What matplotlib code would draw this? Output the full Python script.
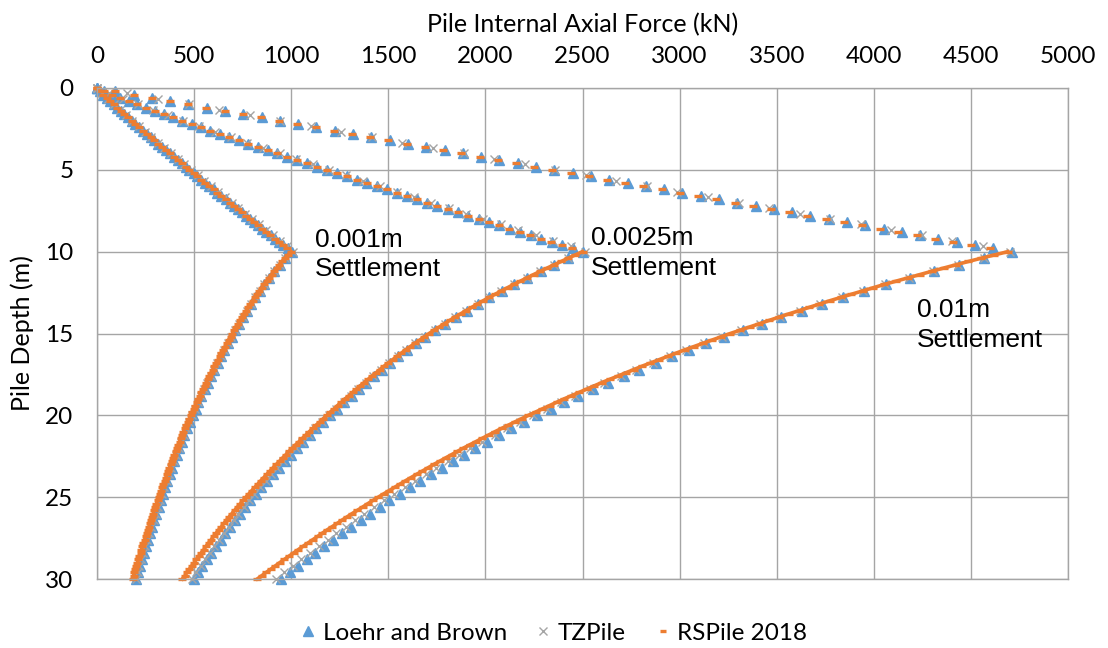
import matplotlib
matplotlib.use("Agg")
import matplotlib.pyplot as plt
from matplotlib.lines import Line2D

plt.rcParams["font.family"] = ["Lato", "DejaVu Sans"]

# depth of the output nodes (m)
depth_rs = [0, 0.2, 0.4, 0.6, 0.8, 1, 1.2, 1.4, 1.6, 1.8, 2, 2.2, 2.4, 2.6, 2.8, 3, 3.2, 3.4, 3.6, 3.8,
            4, 4.2, 4.4, 4.6, 4.8, 5, 5.2, 5.4, 5.6, 5.8, 6, 6.2, 6.4, 6.6, 6.8, 7, 7.2, 7.4, 7.6, 7.8,
            8, 8.2, 8.4, 8.6, 8.8, 9, 9.2, 9.4, 9.6, 9.8, 10, 10.2, 10.4, 10.6, 10.8, 11, 11.2, 11.4, 11.6, 11.8,
            12, 12.2, 12.4, 12.6, 12.8, 13, 13.2, 13.4, 13.6, 13.8, 14, 14.2, 14.4, 14.6, 14.8, 15, 15.2, 15.4, 15.6, 15.8,
            16, 16.2, 16.4, 16.6, 16.8, 17, 17.2, 17.4, 17.6, 17.8, 18, 18.2, 18.4, 18.6, 18.8, 19, 19.2, 19.4, 19.6, 19.8,
            20, 20.2, 20.4, 20.6, 20.8, 21, 21.2, 21.4, 21.6, 21.8, 22, 22.2, 22.4, 22.6, 22.8, 23, 23.2, 23.4, 23.6, 23.8,
            24, 24.2, 24.4, 24.6, 24.8, 25, 25.2, 25.4, 25.6, 25.8, 26, 26.2, 26.4, 26.6, 26.8, 27, 27.2, 27.4, 27.6, 27.8,
            28, 28.2, 28.4, 28.6, 28.8, 29, 29.2, 29.4, 29.6, 29.8, 30]
depth_lb = depth_rs[:51] + depth_rs[52::2]
depth_tz = [0, 0.33, 0.67, 1, 1.33, 1.67, 2, 2.33, 2.67, 3, 3.33, 3.67, 4, 4.33, 4.67, 5,
            5.33, 5.67, 6, 6.33, 6.67, 7, 7.33, 7.67, 8, 8.33, 8.67, 9, 9.33, 9.67, 10] + depth_rs[52::2]

# RSPile 2018 (kN)
rs_1mm = [0, 15, 32, 49, 67, 85, 103, 122, 141, 160, 179, 198, 217, 237, 256, 276, 295, 315, 335, 355,
          375, 395, 415, 436, 456, 476, 497, 517, 538, 558, 579, 600, 620, 641, 662, 683, 704, 725, 746, 767,
          788, 809, 830, 851, 872, 893, 915, 936, 957, 979, 1000,
          984, 968, 953, 939, 926, 912, 899, 886, 873, 860, 848, 836, 824, 813, 801, 790, 779, 769, 758, 747,
          737, 727, 717, 707, 697, 688, 678, 669, 659, 650, 641, 632, 623, 614, 605, 596, 588, 579, 571, 562,
          554, 546, 537, 529, 521, 513, 505, 498, 490, 482, 475, 467, 460, 452, 445, 438, 431, 425, 418, 411,
          405, 398, 392, 385, 379, 373, 367, 360, 354, 348, 342, 336, 330, 324, 318, 312, 306, 301, 295, 289,
          283, 278, 272, 267, 261, 256, 250, 245, 239, 234, 229, 224, 218, 213, 208, 203, 198, 193, 188, 183]
rs_25mm = [0, 37, 77, 120, 163, 208, 253, 299, 345, 392, 440, 487, 535, 584, 632, 681, 730, 780, 829, 879,
           929, 980, 1030, 1081, 1132, 1183, 1234, 1285, 1337, 1388, 1440, 1492, 1544, 1596, 1648, 1701, 1753, 1806, 1859, 1912,
           1965, 2018, 2071, 2124, 2178, 2231, 2285, 2338, 2392, 2446, 2500,
           2463, 2426, 2390, 2354, 2318, 2283, 2248, 2214, 2180, 2146, 2114, 2082, 2050, 2019, 1988, 1959, 1930, 1901, 1872, 1843,
           1816, 1789, 1763, 1736, 1710, 1686, 1662, 1637, 1613, 1589, 1567, 1545, 1522, 1500, 1478, 1457, 1437, 1416, 1396, 1375,
           1355, 1336, 1316, 1297, 1277, 1258, 1239, 1221, 1202, 1183, 1165, 1147, 1129, 1111, 1093, 1076, 1058, 1041, 1023, 1006,
           989, 973, 956, 940, 923, 907, 891, 875, 859, 843, 828, 813, 797, 782, 767, 753, 738, 724, 709, 695,
           681, 668, 654, 641, 627, 614, 601, 588, 575, 562, 550, 537, 525, 512, 500, 488, 476, 464, 452, 440]
rs_10mm = [0, 94, 188, 281, 375, 469, 563, 657, 750, 844, 938, 1032, 1126, 1219, 1313, 1407, 1501, 1595, 1688, 1782,
           1876, 1970, 2064, 2157, 2251, 2345, 2439, 2533, 2626, 2720, 2814, 2908, 3002, 3095, 3189, 3283, 3377, 3471, 3564, 3658,
           3752, 3846, 3940, 4033, 4127, 4221, 4315, 4409, 4502, 4596, 4690,
           4621, 4553, 4487, 4423, 4360, 4298, 4237, 4176, 4115, 4055, 3998, 3942, 3885, 3829, 3773, 3720, 3668, 3616, 3563, 3511,
           3461, 3411, 3361, 3311, 3261, 3214, 3167, 3120, 3073, 3026, 2982, 2938, 2894, 2850, 2806, 2765, 2723, 2682, 2640, 2599,
           2560, 2521, 2482, 2443, 2404, 2367, 2331, 2294, 2258, 2221, 2187, 2152, 2118, 2083, 2049, 2017, 1984, 1952, 1919, 1887,
           1856, 1826, 1795, 1765, 1734, 1705, 1676, 1646, 1617, 1588, 1560, 1532, 1504, 1476, 1448, 1421, 1394, 1368, 1341, 1314,
           1288, 1262, 1237, 1211, 1185, 1160, 1136, 1111, 1086, 1061, 1037, 1013, 989, 965, 941, 918, 895, 871, 848, 825]

# Loehr and Brown (kN)
lb_1mm = [0, 15, 32, 49, 67, 85, 103, 122, 141, 160, 179, 198, 217, 237, 256, 276, 295, 315, 335, 355,
          375, 395, 415, 436, 456, 476, 497, 517, 538, 558, 579, 600, 620, 641, 662, 683, 704, 725, 746, 767,
          788, 809, 830, 851, 872, 894, 916, 937, 959, 981, 1005,
          968, 940, 913, 888, 862, 838, 816, 793, 773, 751, 731, 712, 693, 675, 656, 638, 621, 603, 587, 570,
          554, 538, 522, 508, 492, 477, 463, 449, 437, 423, 410, 398, 386, 374, 362, 350, 339, 327, 317, 305,
          294, 284, 273, 263, 252, 242, 232, 222, 213, 203]
lb_25mm = [0, 37, 77, 120, 163, 208, 253, 299, 345, 392, 440, 487, 535, 584, 632, 681, 730, 780, 829, 879,
           929, 980, 1030, 1081, 1132, 1183, 1234, 1285, 1337, 1388, 1440, 1492, 1544, 1596, 1648, 1701, 1753, 1806, 1859, 1912,
           1965, 2018, 2071, 2125, 2179, 2233, 2287, 2341, 2395, 2450, 2504,
           2426, 2355, 2284, 2215, 2147, 2083, 2021, 1962, 1904, 1847, 1793, 1741, 1691, 1643, 1596, 1552, 1509, 1467, 1427, 1387,
           1349, 1311, 1274, 1237, 1200, 1165, 1130, 1096, 1062, 1029, 997, 966, 935, 904, 874, 845, 817, 789, 762, 735,
           710, 686, 661, 637, 613, 589, 566, 543, 520, 497]
lb_10mm = [0, 94, 188, 283, 377, 471, 565, 659, 754, 848, 942, 1036, 1130, 1225, 1319, 1413, 1507, 1601, 1696, 1790,
           1884, 1978, 2072, 2167, 2261, 2355, 2449, 2543, 2638, 2732, 2826, 2920, 3014, 3109, 3203, 3297, 3391, 3485, 3580, 3674,
           3768, 3862, 3956, 4051, 4145, 4239, 4333, 4427, 4522, 4616, 4711,
           4568, 4437, 4310, 4187, 4065, 3950, 3840, 3732, 3628, 3524, 3425, 3326, 3230, 3137, 3046, 2960, 2876, 2793, 2712, 2630,
           2554, 2479, 2406, 2336, 2266, 2200, 2134, 2071, 2009, 1947, 1889, 1831, 1774, 1719, 1665, 1612, 1559, 1506, 1456, 1406,
           1358, 1310, 1262, 1216, 1171, 1125, 1080, 1036, 992, 950]

# TZPile (kN)
tz_1mm = [0, 27, 56, 86, 118, 149, 181, 214, 247, 280, 313, 347, 381, 415, 449, 483, 518, 553, 588, 623,
          658, 693, 728, 764, 799, 835, 871, 907, 943, 979, 1010,
          968, 940, 913, 887, 861, 837, 815, 792, 772, 750, 730, 711, 692, 673, 654, 636, 619, 601, 585, 568,
          552, 536, 520, 505, 489, 474, 460, 446, 434, 420, 407, 395, 383, 371, 359, 347, 336, 324, 314, 302,
          291, 280, 269, 259, 248, 238, 228, 218, 209, 199]
tz_25mm = [0, 64, 136, 210, 287, 365, 445, 525, 607, 689, 772, 856, 940, 1025, 1111, 1197, 1283, 1370, 1457, 1545,
           1633, 1721, 1810, 1899, 1988, 2078, 2168, 2258, 2348, 2439, 2515,
           2426, 2354, 2283, 2214, 2146, 2082, 2020, 1960, 1902, 1845, 1791, 1739, 1689, 1640, 1593, 1549, 1506, 1464, 1423, 1383,
           1345, 1307, 1270, 1232, 1195, 1160, 1125, 1091, 1057, 1023, 991, 960, 929, 898, 868, 839, 811, 783, 755, 728,
           703, 678, 653, 629, 605, 581, 558, 535, 512, 488]
tz_10mm = [0, 157, 315, 472, 629, 787, 944, 1101, 1259, 1416, 1573, 1731, 1888, 2045, 2203, 2360, 2517, 2675, 2832, 2989,
           3147, 3304, 3461, 3619, 3776, 3933, 4091, 4248, 4405, 4563, 4700,
           4566, 4434, 4306, 4183, 4060, 3946, 3834, 3725, 3620, 3515, 3416, 3316, 3219, 3125, 3034, 2948, 2862, 2778, 2696, 2613,
           2537, 2461, 2387, 2316, 2245, 2178, 2112, 2048, 1985, 1923, 1864, 1805, 1748, 1692, 1637, 1584, 1531, 1478, 1427, 1377,
           1329, 1281, 1233, 1187, 1142, 1096, 1051, 1007, 964, 922]

labels = ["0.001m\nSettlement", "0.0025m\nSettlement", "0.01m\nSettlement"]
label_x = [1122, 2542, 4222]
label_y = [8.54, 8.46, 12.84]

blue = "#5B9BD5"
grey = "#A5A5A5"
orange = "#ED7D31"

fig = plt.figure(figsize=(11.08, 6.48), dpi=100)
ax = fig.add_axes([97 / 1108, 1 - 579 / 648, 971 / 1108, 491 / 648])

for lb in [lb_1mm, lb_25mm, lb_10mm]:
    ax.plot(lb, depth_lb, ls="none", marker="^", ms=7, color=blue, mec=blue, clip_on=False)
for tz in [tz_1mm, tz_25mm, tz_10mm]:
    ax.plot(tz, depth_tz, ls="none", marker="x", ms=6, mew=1.0, color=grey, clip_on=False)
for rs in [rs_1mm, rs_25mm, rs_10mm]:
    # below the peak the dash markers merge into a thick line
    ax.plot(rs[50:], depth_rs[50:], ls="-", lw=2.6, color=orange, clip_on=False)
    ax.plot(rs, depth_rs, ls="none", marker="_", ms=5.5, mew=2.4, color=orange, clip_on=False)

for txt, x, y in zip(labels, label_x, label_y):
    ax.text(x, y, txt, family="Liberation Sans", fontsize=19, va="top", ha="left", linespacing=1.3)

ax.set_xlim(0, 5000)
ax.set_ylim(30, 0)
ax.set_xticks(range(0, 5001, 500))
ax.set_yticks(range(0, 31, 5))
ax.xaxis.tick_top()
ax.xaxis.set_label_position("top")
ax.tick_params(axis="x", length=0, labelsize=17.5, pad=15)
ax.tick_params(axis="y", length=0, labelsize=17.5, pad=17)
ax.grid(color=grey, lw=1.0)
ax.set_axisbelow(True)
for s in ax.spines.values():
    s.set_color(grey)
    s.set_linewidth(1.0)

ax.set_xlabel("Pile Internal Axial Force (kN)", fontsize=18, labelpad=10)
ax.set_ylabel("Pile Depth (m)", fontsize=18, labelpad=8)

handles = [
    Line2D([], [], ls="none", marker="^", ms=6.5, color=blue),
    Line2D([], [], ls="none", marker="x", ms=5.5, mew=1.0, color=grey),
    Line2D([], [], ls="none", marker="_", ms=5, mew=2.4, color=orange),
]
fig.legend(handles, ["Loehr and Brown", "TZPile", "RSPile 2018"], loc="center",
           bbox_to_anchor=(0.5, 0.023), ncol=3, frameon=False, fontsize=17.5,
           handlelength=0.6, handletextpad=0.3, columnspacing=1.2)

fig.savefig("out.png", dpi=100)
